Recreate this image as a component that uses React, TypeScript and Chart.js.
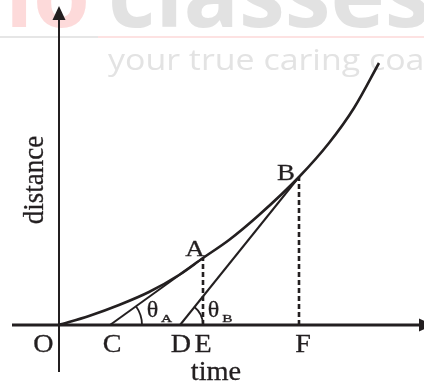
import React, { useEffect, useRef } from 'react';
import { Chart, registerables } from 'chart.js';

Chart.register(...registerables);

// distance–time curve (time, distance in drawing units)
const curveTimes = [0, 30, 60, 90, 120, 144, 170, 200, 240, 270, 295, 320];
const curveDistances = [0, 9, 20, 33, 50, 67, 85, 110, 148, 182, 217, 262];

// marked points on the curve
const markedNames = ['A', 'B'];
const markedTimes = [144, 240];
const markedDistances = [67, 148];

// where the two tangents cut the time axis
const tangentFeet = [51, 121];
const angleNames = ['θA', 'θB'];

// points named on the time axis
const axisPointNames = ['O', 'C', 'D', 'E', 'F'];
const axisPointTimes = [0, 51, 121, 144, 240];

// axes extents
const timeAxisRange = [-47, 361];
const distanceAxisRange = [-47, 306];
const axisTitles = ['time', 'distance'];

const watermarkLines = ['your true caring coac', 'classes', 'no'];

const ink = '#231f20';

function pts(xs: number[], ys: number[]) {
  return xs.map((v, i) => ({ x: v, y: ys[i] }));
}

function drawLabel(ctx: CanvasRenderingContext2D, text: string, cx: number, baseY: number, size: number, sx = 1, rot = 0) {
  ctx.save();
  ctx.translate(cx, baseY);
  if (rot) ctx.rotate(rot);
  ctx.scale(sx, 1);
  ctx.font = `${size}px "Liberation Serif", "Times New Roman", serif`;
  ctx.textAlign = 'center';
  ctx.textBaseline = 'alphabetic';
  ctx.fillStyle = ink;
  ctx.strokeStyle = ink;
  ctx.lineWidth = 0.3;
  ctx.fillText(text, 0, 0);
  ctx.strokeText(text, 0, 0);
  ctx.restore();
}

const diagramPlugin = {
  id: 'diagram',
  beforeDatasetsDraw(chart: any) {
    const ctx: CanvasRenderingContext2D = chart.ctx;
    ctx.save();
    // watermark band
    ctx.font = 'bold 92px "Open Sans", sans-serif';
    ctx.textBaseline = 'alphabetic';
    ctx.textAlign = 'left';
    ctx.fillStyle = '#e2e2e2';
    ctx.fillText(watermarkLines[1], 108, 27);
    ctx.textAlign = 'right';
    ctx.fillStyle = '#fddada';
    ctx.fillText(watermarkLines[2], 90, 27);
    ctx.fillStyle = '#e6e6e6';
    ctx.fillRect(0, 36, 98, 2);
    ctx.fillStyle = '#fde2e2';
    ctx.fillRect(98, 36, 326, 2);
    ctx.translate(108, 70);
    ctx.scale(1.13, 1);
    ctx.textAlign = 'left';
    ctx.font = '30px "Open Sans", sans-serif';
    ctx.fillStyle = '#e3e3e3';
    ctx.fillText(watermarkLines[0], 0, 0);
    ctx.restore();
  },
  afterDatasetsDraw(chart: any) {
    const ctx: CanvasRenderingContext2D = chart.ctx;
    const xs = chart.scales.x;
    const ys = chart.scales.y;
    const px = (v: number) => xs.getPixelForValue(v);
    const py = (v: number) => ys.getPixelForValue(v);
    ctx.save();
    ctx.fillStyle = ink;
    ctx.strokeStyle = ink;

    // arrow heads
    const yTop = py(distanceAxisRange[1]);
    ctx.beginPath();
    ctx.moveTo(px(0), yTop - 13);
    ctx.lineTo(px(0) - 6.5, yTop + 1);
    ctx.lineTo(px(0) + 6.5, yTop + 1);
    ctx.closePath();
    ctx.fill();
    const xEnd = px(timeAxisRange[1]);
    ctx.beginPath();
    ctx.moveTo(xEnd + 14, py(0));
    ctx.lineTo(xEnd - 1, py(0) - 6.5);
    ctx.lineTo(xEnd - 1, py(0) + 6.5);
    ctx.closePath();
    ctx.fill();

    // angle arcs
    const radii = [32, 23];
    tangentFeet.forEach((foot, i) => {
      const cx = px(foot);
      const cy = py(0);
      const ang = Math.atan2(cy - py(markedDistances[i]), px(markedTimes[i]) - cx);
      ctx.beginPath();
      ctx.lineWidth = 1.8;
      ctx.arc(cx, cy, radii[i], -ang, 0);
      ctx.stroke();
      // theta labels
      const thOff = [42.5, 33.5][i];
      drawLabel(ctx, 'θ', cx + thOff, cy - 8.5, 24, 1);
      drawLabel(ctx, angleNames[i].slice(1), cx + thOff + 14, cy - 3, 11, 1.4);
    });

    // axis point labels
    const labelOffsets = [-15.5, 2, 1, 0, 4];
    axisPointNames.forEach((n, i) => {
      drawLabel(ctx, n, px(axisPointTimes[i]) + labelOffsets[i], py(0) + 27, 26, 1.08);
    });

    // curve point labels
    const mOff = [[-8, -2], [-13, 3]];
    markedNames.forEach((n, i) => {
      drawLabel(ctx, n, px(markedTimes[i]) + mOff[i][0], py(markedDistances[i]) + mOff[i][1], 24, 1.12);
    });

    // axis titles
    drawLabel(ctx, axisTitles[0], px(157), py(0) + 55, 27, 1.05);
    drawLabel(ctx, axisTitles[1], px(0) - 16, py(145), 30, 0.9, -Math.PI / 2);

    ctx.restore();
  },
};

export default function App() {
  const ref = useRef<HTMLCanvasElement>(null);
  useEffect(() => {
    if (!ref.current) return;
    const line = (data: any[], width: number, dash: number[] = []) => ({
      data,
      borderColor: ink,
      backgroundColor: ink,
      borderWidth: width,
      borderDash: dash,
      pointRadius: 0,
      showLine: true,
      clip: false as any,
    });
    const datasets: any[] = [
      { ...line(pts(curveTimes, curveDistances), 2.6), cubicInterpolationMode: 'monotone' },
      line([{ x: tangentFeet[0], y: 0 }, { x: markedTimes[0], y: markedDistances[0] }], 2),
      line([{ x: tangentFeet[1], y: 0 }, { x: markedTimes[1], y: markedDistances[1] }], 2),
      line([{ x: markedTimes[0], y: 0 }, { x: markedTimes[0], y: markedDistances[0] }], 2.6, [5, 3]),
      line([{ x: markedTimes[1], y: 0 }, { x: markedTimes[1], y: markedDistances[1] }], 2.6, [5, 3]),
      line([{ x: timeAxisRange[0], y: 0 }, { x: timeAxisRange[1], y: 0 }], 3),
      line([{ x: 0, y: distanceAxisRange[0] }, { x: 0, y: distanceAxisRange[1] }], 2),
    ];
    const chart = new Chart(ref.current, {
      type: 'scatter',
      data: { datasets },
      options: {
        animation: false,
        responsive: false,
        layout: { padding: 0 },
        plugins: { legend: { display: false }, tooltip: { enabled: false } },
        scales: {
          x: { type: 'linear', min: -59, max: 365, display: false },
          y: { type: 'linear', min: -60, max: 325, display: false },
        },
      },
      plugins: [diagramPlugin],
    });
    return () => chart.destroy();
  }, []);
  return (
    <div style={{ position: 'fixed', left: 0, top: 0, width: 424, height: 385, background: '#fff' }}>
      <canvas ref={ref} width={424} height={385} style={{ width: 424, height: 385, display: 'block' }} />
    </div>
  );
}
